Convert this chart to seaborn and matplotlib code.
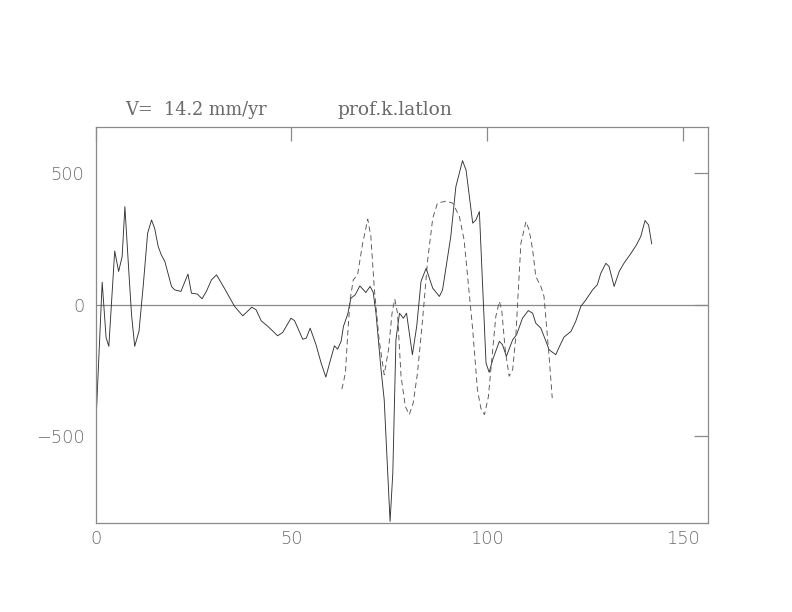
import matplotlib
matplotlib.use("Agg")
import matplotlib.pyplot as plt
import seaborn as sns
import pandas as pd

# profile along the section (solid) and model (dashed)
solid_x = [0.0, 1.7, 2.7, 3.4, 4.9, 5.9, 6.8, 7.5, 8.5, 9.2, 10.0, 11.1, 12.2, 13.3,
           14.3, 15.1, 16.0, 16.8, 17.7, 19.4, 20.2, 21.8, 23.6, 24.5, 26.0, 27.2,
           28.3, 29.6, 30.9, 32.9, 35.5, 37.6, 39.9, 41.0, 42.3, 44.0, 46.5, 47.8,
           49.9, 50.8, 52.9, 53.8, 54.8, 56.3, 57.6, 58.8, 60.0, 61.0, 61.8, 62.7,
           63.3, 64.4, 65.2, 66.3, 67.5, 69.0, 70.1, 70.9, 71.6, 72.9, 73.7, 75.2,
           75.9, 76.7, 77.6, 78.6, 79.4, 80.9, 82.0, 83.1, 84.4, 86.1, 87.8, 88.6,
           90.7, 92.0, 93.7, 94.6, 96.3, 97.1, 98.0, 98.8, 99.7, 100.5, 101.4,
           103.1, 103.9, 104.9, 106.5, 107.5, 109.0, 110.5, 111.6, 112.4, 113.7,
           115.0, 115.8, 117.5, 118.4, 119.6, 121.4, 122.6, 123.9, 125.2, 126.9,
           128.1, 129.0, 130.3, 131.1, 132.4, 133.7, 134.9, 136.7, 138.1, 139.2,
           140.3, 141.2, 142.0]
solid_y = [-488, 86, -125, -158, 205, 127, 184, 374, 127, -38, -158, -101, 76, 272,
           323, 291, 222, 190, 165, 70, 57, 51, 117, 44, 41, 23,
           51, 95, 114, 63, -6, -42, -9, -19, -61, -82, -118, -105,
           -51, -60, -131, -127, -89, -152, -222, -275, -209, -156, -169, -139,
           -82, -35, 25, 38, 72, 47, 70, 47, -32, -247, -361, -825,
           -640, -133, -32, -51, -32, -190, -82, 89, 139, 63, 32, 57,
           260, 450, 549, 513, 311, 323, 355, 82, -222, -257, -209,
           -139, -152, -196, -133, -114, -51, -22, -32, -70, -89,
           -139, -171, -190, -160, -123, -101, -63, -6, 19, 57,
           76, 120, 158, 146, 70, 127, 158, 196, 228, 260,
           321, 304, 232]

dash_x = [62.9, 63.8, 64.4, 65.0, 65.8, 66.9, 68.2, 69.5, 70.3, 71.2, 72.4, 73.7,
          74.8, 75.7, 76.4, 77.1, 78.0, 79.1, 80.1, 81.1, 82.2, 83.5, 84.8, 86.1,
          87.3, 89.5, 91.2, 92.9, 94.1, 95.0, 96.3, 97.5, 98.4, 99.3, 100.3, 101.4,
          102.2, 103.1, 103.7, 104.6, 105.6, 106.5, 107.3, 108.6, 109.9, 110.7,
          111.6, 112.4, 113.7, 114.5, 115.8, 116.6]
dash_y = [-321, -260, -108, 19, 95, 114, 234, 326, 260, 57, -133, -266,
          -171, -32, 22, -32, -272, -387, -418, -374, -260, -57, 171, 330,
          387, 395, 387, 336, 247, 108, -95, -323, -395, -418, -350, -171,
          -44, 13, -19, -171, -272, -247, -120, 234, 317, 285,
          209, 108, 70, 32, -196, -355]

xticks = [0, 50, 100, 150]
yticks = [-500, 0, 500]
velocity_label = "V=  14.2 mm/yr"
profile_label = "prof.k.latlon"

sns.set_style("white")
plt.rcParams['font.family'] = ['DejaVu Sans']

frame_col = "#8a8a8a"
text_col = "#6a6a6a"
line_col = "#333333"

fig = plt.figure(figsize=(7.92, 6.12), dpi=100)
ax = fig.add_axes([0.1206, 0.1449, 0.7730, 0.6480])

df_solid = pd.DataFrame({"x": solid_x, "y": solid_y})
df_dash = pd.DataFrame({"x": dash_x, "y": dash_y})

ax.axhline(0, color=frame_col, lw=0.9, zorder=1)
sns.lineplot(data=df_solid, x="x", y="y", ax=ax, color=line_col, lw=0.65,
             sort=False, estimator=None)
sns.lineplot(data=df_dash, x="x", y="y", ax=ax, color="#555555", lw=0.65,
             sort=False, estimator=None, dashes=False, linestyle=(0, (6, 4)))

ax.set_xlim(0, 156.3)
ax.set_ylim(-832, 678)
ax.set_xticks(xticks)
ax.set_yticks(yticks)
ax.set_xlabel("")
ax.set_ylabel("")

for s in ax.spines.values():
    s.set_visible(True)
    s.set_color(frame_col)
    s.set_linewidth(0.9)

ax.tick_params(direction="in", length=10, width=0.9, color=frame_col,
               top=True, right=True, labeltop=False, labelright=False,
               labelsize=12.8, labelcolor=text_col)
ax.tick_params(axis="y", pad=8)
ax.tick_params(axis="x", pad=5)
for lab in ax.get_xticklabels() + ax.get_yticklabels():
    lab.set_fontweight("light")

ax.text(0.048, 1.042, velocity_label, transform=ax.transAxes, ha="left",
        va="center", fontsize=12.8, color=text_col, family="DejaVu Serif")
ax.text(0.396, 1.042, profile_label, transform=ax.transAxes, ha="left",
        va="center", fontsize=13.5, color=text_col, family="DejaVu Serif")

fig.savefig("out.png", dpi=100, facecolor="white")
